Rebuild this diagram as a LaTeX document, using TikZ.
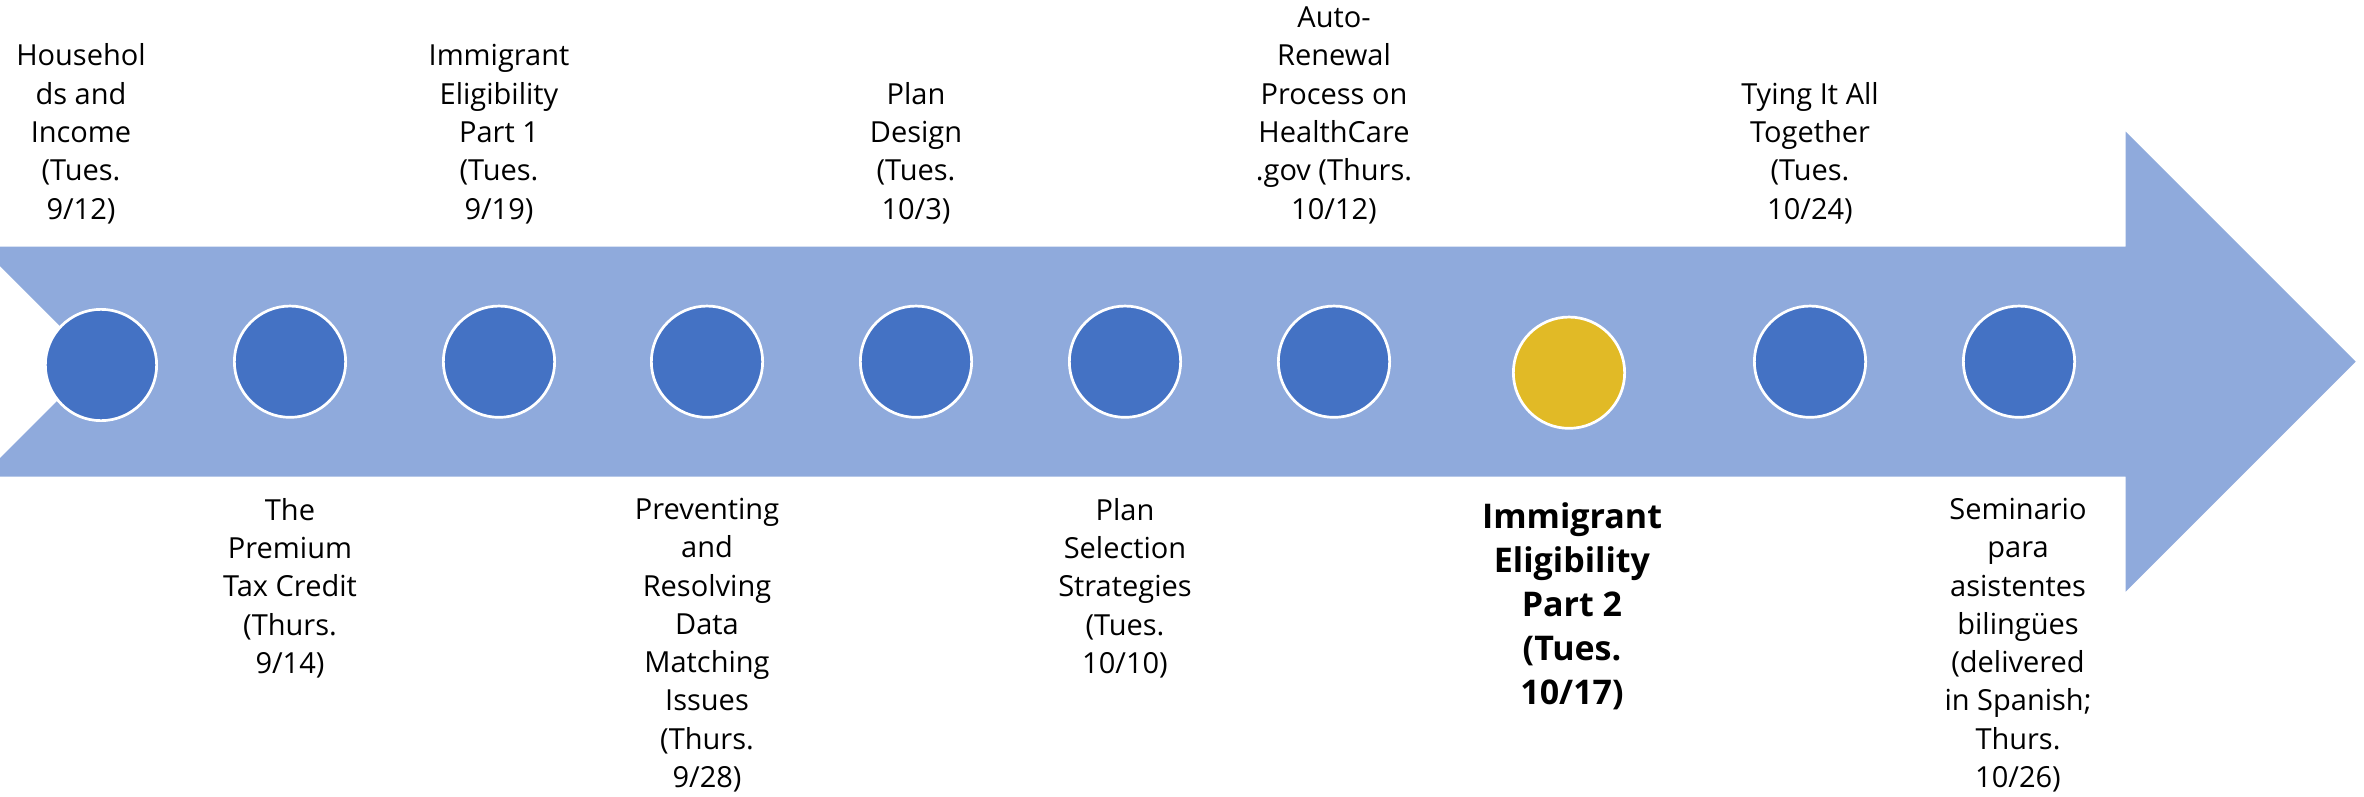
\documentclass[tikz,border=0pt]{standalone}
\usepackage{fontspec}
\setmainfont{Open Sans}
\usetikzlibrary{positioning}
\definecolor{arrowblue}{HTML}{8FAADC}
\definecolor{dotblue}{HTML}{4472C4}
\definecolor{dotgold}{HTML}{E1BA26}

\begin{document}
\begin{tikzpicture}
	[
		x=1pt, y=-1pt,
		every node/.style={inner sep=0pt, outer sep=0pt},
		dot/.style={circle, draw=white, line width=2.7pt, fill=dotblue, minimum size=111.3pt},
		toptext/.style={anchor=south, align=center, font=\fontsize{29}{38.3}\selectfont,
			execute at begin node=\strut, execute at end node=\strut},
		bottext/.style={anchor=north, align=center, font=\fontsize{29}{38.3}\selectfont,
			execute at begin node=\strut, execute at end node=\strut},
		boldtext/.style={bottext, font=\fontsize{34}{44}\selectfont\bfseries}
	]
	\useasboundingbox (0,0) rectangle (2364,797);

	% the big arrow
	\fill[arrowblue] (0,246.7) -- (2125.7,246.7) -- (2125.7,131.7) -- (2355.7,361.7)
		-- (2125.7,591.7) -- (2125.7,476.7) -- (0,476.7) -- (0,458) -- (96,362) -- (0,266) -- cycle;

	% dots on the arrow
	\node(c1) [dot] at (101,365) {};
	\foreach \n/\x in {2/290,3/499,4/707,5/916,6/1125,7/1334,9/1810,10/2019}
		\node(c\n) [dot] at (\x,361.7) {};
	\node(c8) [dot, fill=dotgold] at (1569,372.7) {};

	% labels above
	\node(l1) [toptext] at (81,230.5) {Househol\\ds and\\Income\\(Tues.\\9/12)};
	\node(l3) [toptext] at (499,230.5) {Immigrant\\Eligibility\\Part 1\\(Tues.\\9/19)};
	\node(l5) [toptext] at (916,230.5) {Plan\\Design\\(Tues.\\10/3)};
	\node(l7) [toptext] at (1334,230.5) {Auto-\\Renewal\\Process on\\HealthCare\\.gov (Thurs.\\10/12)};
	\node(l9) [toptext] at (1810,230.5) {Tying It All\\Together\\(Tues.\\10/24)};

	% labels below
	\node(l2) [bottext] at (290,498.2) {The\\Premium\\Tax Credit\\(Thurs.\\9/14)};
	\node(l4) [bottext] at (707,498.2) {Preventing\\and\\Resolving\\Data\\Matching\\Issues\\(Thurs.\\9/28)};
	\node(l6) [bottext] at (1125,498.2) {Plan\\Selection\\Strategies\\(Tues.\\10/10)};
	\node(l8) [boldtext] at (1572,502.2) {Immigrant\\Eligibility\\Part 2\\(Tues.\\10/17)};
	\node(l10) [bottext] at (2018,498.2) {Seminario\\para\\asistentes\\bilingües\\(delivered\\in Spanish;\\Thurs.\\10/26)};
\end{tikzpicture}
\end{document}
